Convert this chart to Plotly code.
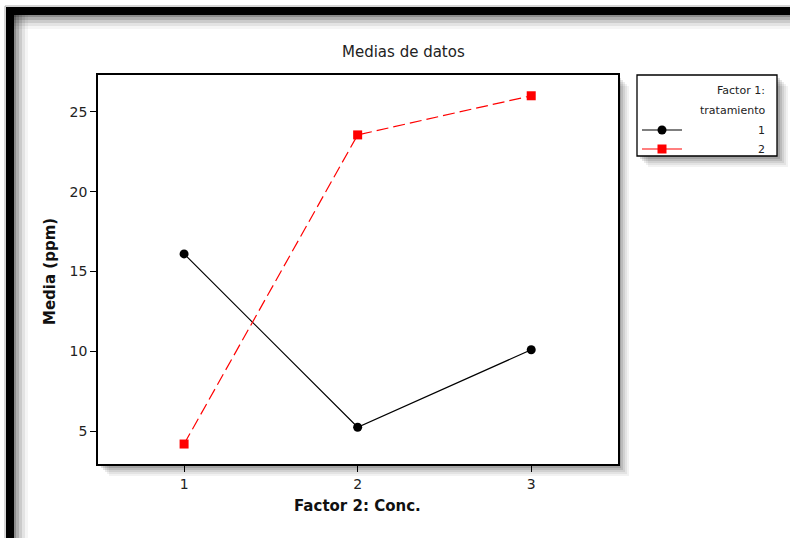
import plotly.graph_objects as go

# Means by factor level
conc_levels = [1, 2, 3]
trat1_means = [16.1, 5.25, 10.1]
trat2_means = [4.2, 23.55, 26.0]
series_names = ["1", "2"]
y_ticks = [5, 10, 15, 20, 25]

FONT = "DejaVu Sans"
W, H = 790, 538
L, T, R, B = 98, 75, 10, 74
PW, PH = W - L - R, H - T - B


def px(x):
    return (x - L) / PW


def py(y):
    return (H - B - y) / PH


fig = go.Figure()

fig.add_trace(go.Scatter(
    x=conc_levels, y=trat1_means, name=series_names[0], mode="lines+markers",
    line=dict(color="black", width=1.2),
    marker=dict(symbol="circle", size=9, color="black"),
    xaxis="x", yaxis="y", showlegend=False, cliponaxis=False,
))
fig.add_trace(go.Scatter(
    x=conc_levels, y=trat2_means, name=series_names[1], mode="lines+markers",
    line=dict(color="#ff0000", width=1.2, dash="12px,5px"),
    marker=dict(symbol="square", size=9, color="#ff0000"),
    xaxis="x", yaxis="y", showlegend=False, cliponaxis=False,
))

# Legend samples drawn on a small pixel-scaled subplot
leg_rows = [130, 149]
leg_styles = [
    dict(line=dict(color="black", width=1.2), marker=dict(symbol="circle", size=9, color="black")),
    dict(line=dict(color="#ff0000", width=1.2), marker=dict(symbol="square", size=9, color="#ff0000")),
]
for row, st, nm in zip(leg_rows, leg_styles, series_names):
    fig.add_trace(go.Scatter(
        x=[642, 662, 682], y=[row, row, row], mode="lines",
        line=st["line"], xaxis="x2", yaxis="y2", showlegend=False, hoverinfo="skip",
    ))
    fig.add_trace(go.Scatter(
        x=[662], y=[row], mode="markers", marker=st["marker"],
        xaxis="x2", yaxis="y2", showlegend=False, hoverinfo="skip",
    ))

shapes = []

# soft drop shadows for the plot frame and legend box
def shadow(x0, y0, x1, y1):
    out = []
    for k, a in [(11, 0.05), (9, 0.06), (7, 0.08), (5, 0.10), (3, 0.12)]:
        out.append(dict(type="rect", xref="paper", yref="paper", layer="below",
                        x0=px(x0 + k), x1=px(x1 + k), y0=py(y0 + k), y1=py(y1 + k),
                        line=dict(width=0), fillcolor=f"rgba(0,0,0,{a})"))
    return out

shapes += shadow(98, 75, 618, 465)
shapes += shadow(637, 75, 777, 156)
shapes.append(dict(type="rect", xref="paper", yref="paper", layer="below",
                   x0=px(98), x1=px(618), y0=py(465), y1=py(75),
                   line=dict(width=0), fillcolor="white"))
shapes.append(dict(type="rect", xref="paper", yref="paper", layer="below",
                   x0=px(637), x1=px(777), y0=py(156), y1=py(75),
                   line=dict(color="black", width=1.3), fillcolor="white"))

# outer black frame with an inner shading gradient
for k, a in [(14, 0.04), (11, 0.07), (8, 0.10), (5, 0.14), (2, 0.20)]:
    shapes.append(dict(type="rect", xref="paper", yref="paper", layer="below",
                       x0=px(14), x1=px(14 + k), y0=py(538), y1=py(15),
                       line=dict(width=0), fillcolor=f"rgba(0,0,0,{a})"))
    shapes.append(dict(type="rect", xref="paper", yref="paper", layer="below",
                       x0=px(14), x1=px(790), y0=py(15 + k), y1=py(15),
                       line=dict(width=0), fillcolor=f"rgba(0,0,0,{a})"))
shapes.append(dict(type="rect", xref="paper", yref="paper", layer="above",
                   x0=px(6), x1=px(14), y0=py(540), y1=py(7),
                   line=dict(width=0), fillcolor="black"))
shapes.append(dict(type="rect", xref="paper", yref="paper", layer="above",
                   x0=px(6), x1=px(792), y0=py(15), y1=py(7),
                   line=dict(width=0), fillcolor="black"))
shapes.append(dict(type="line", xref="paper", yref="paper", layer="above",
                   x0=px(5), x1=px(792), y0=py(6), y1=py(6),
                   line=dict(color="#aaa", width=1)))
shapes.append(dict(type="line", xref="paper", yref="paper", layer="above",
                   x0=px(5), x1=px(5), y0=py(540), y1=py(6),
                   line=dict(color="#aaa", width=1)))

annotations = [
    dict(text="Medias de datos", xref="paper", yref="paper", x=px(403), y=py(52),
         showarrow=False, font=dict(family=FONT, size=15, color="#222"),
         xanchor="center", yanchor="middle"),
    dict(text="<b>Media (ppm)</b>", xref="paper", yref="paper", x=px(50), y=py(271),
         showarrow=False, textangle=-90, font=dict(family=FONT, size=15, color="#111"),
         xanchor="center", yanchor="middle"),
    dict(text="<b>Factor 2: Conc.</b>", xref="paper", yref="paper", x=px(357), y=py(506),
         showarrow=False, font=dict(family=FONT, size=15, color="#111"),
         xanchor="center", yanchor="middle"),
]
leg_text = [("Factor 1:", 90), ("tratamiento", 110), (series_names[0], 130), (series_names[1], 149)]
for txt, yy in leg_text:
    annotations.append(dict(text=txt, xref="x2", yref="y2", x=767, y=yy, showarrow=False,
                            xanchor="right", yanchor="middle",
                            font=dict(family=FONT, size=11, color="#222")))

tick_font = dict(family=FONT, size=14, color="#222")
fig.update_layout(
    width=W, height=H,
    margin=dict(l=L, r=R, t=T, b=B),
    paper_bgcolor="white", plot_bgcolor="rgba(0,0,0,0)",
    font=dict(family=FONT, size=13, color="#222"),
    shapes=shapes, annotations=annotations,
    xaxis=dict(domain=[0, px(618)], range=[0.504, 3.5], tickvals=conc_levels,
               ticks="outside", ticklen=6, tickcolor="black", tickwidth=1,
               showline=True, linecolor="black", linewidth=1.5, mirror=True,
               showgrid=False, zeroline=False, tickfont=tick_font),
    yaxis=dict(domain=[0, 1], range=[2.95, 27.3], tickvals=y_ticks,
               ticks="outside", ticklen=6, tickcolor="black", tickwidth=1,
               showline=True, linecolor="black", linewidth=1.5, mirror=True,
               showgrid=False, zeroline=False, tickfont=tick_font),
    xaxis2=dict(domain=[px(637), px(777)], range=[637, 777], visible=False,
                anchor="y2", fixedrange=True),
    yaxis2=dict(domain=[py(156), 1], range=[156, 75], visible=False,
                anchor="x2", fixedrange=True),
)

fig.write_html("out.html")
